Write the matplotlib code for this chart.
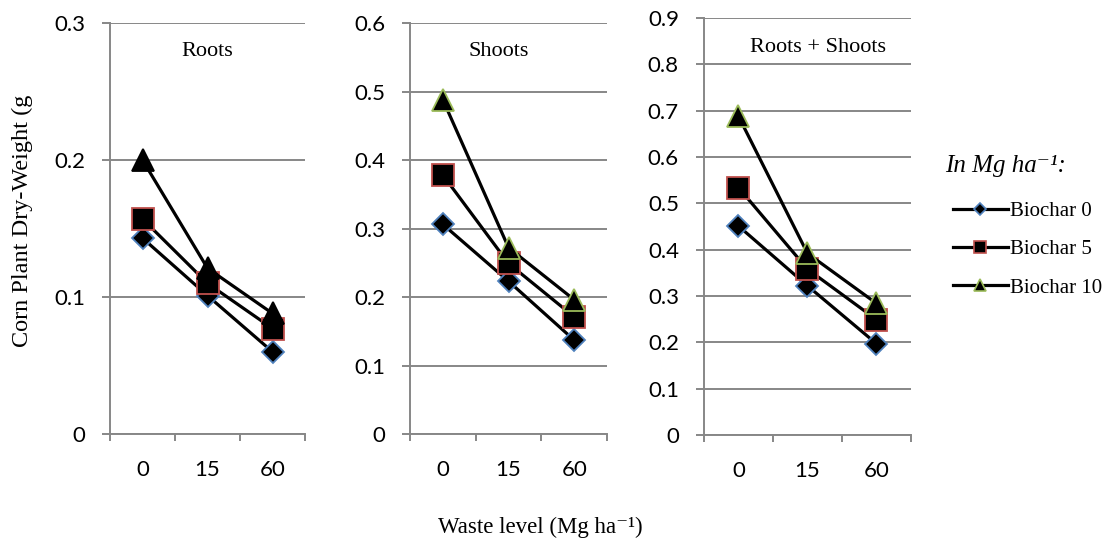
import matplotlib
matplotlib.use('Agg')
from matplotlib import pyplot as plt
from matplotlib.lines import Line2D

# data
waste = ['0', '15', '60']
roots_b0 = [0.143, 0.101, 0.060]
roots_b5 = [0.157, 0.110, 0.077]
roots_b10 = [0.200, 0.121, 0.088]
shoots_b0 = [0.306, 0.223, 0.137]
shoots_b5 = [0.378, 0.249, 0.171]
shoots_b10 = [0.488, 0.272, 0.196]
total_b0 = [0.451, 0.322, 0.197]
total_b5 = [0.534, 0.358, 0.249]
total_b10 = [0.688, 0.392, 0.284]
series_names = ['Biochar 0', 'Biochar 5', 'Biochar 10']

grid_c = '#878787'
edge_c = ['#4F81BD', '#C0504D', '#9BBB59']
tick_font = 'Lato'
serif = ['Liberation Serif', 'DejaVu Serif']

fig = plt.figure(figsize=(11.1, 5.44), dpi=100)

panels = [
    ([0.0991, 0.2022, 0.1757, 0.7555], 'Roots', 0.3, 0.1,
     [roots_b0, roots_b5, roots_b10], ['#000000', edge_c[1], '#000000'], 0.5),
    ([0.3694, 0.2022, 0.1775, 0.7555], 'Shoots', 0.6, 0.1,
     [shoots_b0, shoots_b5, shoots_b10], edge_c, 0.45),
    ([0.6342, 0.2004, 0.1865, 0.7665], 'Roots + Shoots', 0.9, 0.1,
     [total_b0, total_b5, total_b10], edge_c, 0.55),
]
markers = ['D', 's', '^']
msizes = [11, 16, 16]

x = list(range(len(waste)))
for rect, title, ymax, step, data, edges, tx in panels:
    ax = fig.add_axes(rect)
    edges = list(edges)
    edges[0] = edge_c[0]
    for i in range(3):
        ax.plot(x, data[i], color='black', lw=2.3, marker=markers[i],
                ms=msizes[i], mfc='black', mec=edges[i], mew=1.3, zorder=3 + i)
    ax.set_xlim(-0.5, 2.5)
    ax.set_ylim(0, ymax)
    nt = int(round(ymax / step))
    yt = [round(k * step, 1) for k in range(nt + 1)]
    ax.set_yticks(yt)
    ax.set_yticklabels(['0' if v == 0 else '%.1f' % v for v in yt])
    ax.set_xticks(x)
    ax.set_xticklabels(waste)
    ax.set_xticks([-0.5, 0.5, 1.5, 2.5], minor=True)
    ax.grid(axis='y', color=grid_c, lw=1.4)
    ax.set_axisbelow(True)
    for s in ['top', 'right']:
        ax.spines[s].set_visible(False)
    for s in ['left', 'bottom']:
        ax.spines[s].set_color(grid_c)
        ax.spines[s].set_linewidth(1.4)
    ax.tick_params(axis='y', length=6, width=1.4, color=grid_c, pad=12)
    ax.tick_params(axis='x', which='major', length=0, pad=19)
    ax.tick_params(axis='x', which='minor', length=5, width=1.4, color=grid_c)
    for lab in ax.get_xticklabels() + ax.get_yticklabels():
        lab.set_fontfamily(tick_font)
        lab.set_fontsize(16)
    ax.text(tx, 0.93, title, transform=ax.transAxes, ha='center', va='center',
            family=serif, fontsize=16)

fig.text(0.02, 0.594, 'Corn Plant Dry-Weight (g', rotation=90, ha='center',
         va='center', family=serif, fontsize=17.5)
fig.text(0.487, 0.03, 'Waste level (Mg ha\u207b\u00b9)', ha='center',
         va='center', family=serif, fontsize=16.5)

# legend title
fig.text(0.851, 0.695, 'In Mg ha\u207b\u00b9:', ha='left', va='center',
         family=serif, style='italic', fontsize=18)

handles = [Line2D([], [], color='black', lw=2.3, marker=markers[i],
                  ms=[6, 8, 8][i], mfc='black', mec=edge_c[i], mew=1.2)
           for i in range(3)]
leg = fig.legend(handles, series_names, loc='upper left',
                 bbox_to_anchor=(0.842, 0.664), frameon=False,
                 prop={'family': serif, 'size': 15},
                 handlelength=2.6, handletextpad=0.1, labelspacing=0.9)

plt.savefig('out.png')
